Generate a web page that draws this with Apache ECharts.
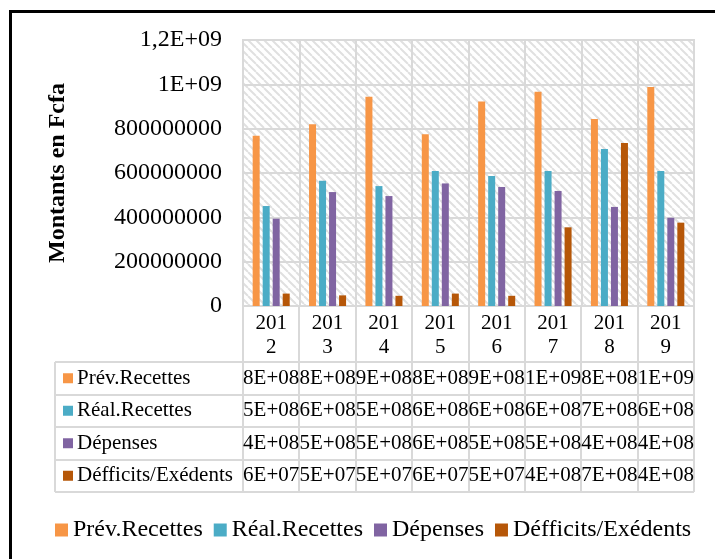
<!DOCTYPE html>
<html>
<head>
<meta charset="utf-8">
<script src="https://cdn.jsdelivr.net/npm/echarts@6/dist/echarts.min.js"></script>
<style>
html,body{margin:0;padding:0;background:#fff;}
#c{width:715px;height:559px;}
</style>
</head>
<body>
<div id="c"></div>
<script>
// ---- data ----
const categories = ['2012','2013','2014','2015','2016','2017','2018','2019'];
const seriesNames = ['Prév.Recettes','Réal.Recettes','Dépenses','Défficits/Exédents'];
const prevRecettes = [7.68e8, 8.20e8, 9.44e8, 7.75e8, 9.22e8, 9.67e8, 8.44e8, 9.88e8];
const realRecettes = [4.51e8, 5.65e8, 5.41e8, 6.09e8, 5.86e8, 6.09e8, 7.08e8, 6.09e8];
const depenses     = [3.94e8, 5.14e8, 4.96e8, 5.53e8, 5.37e8, 5.19e8, 4.47e8, 3.98e8];
const deficits     = [5.6e7, 4.8e7, 4.6e7, 5.6e7, 4.6e7, 3.55e8, 7.35e8, 3.76e8];
const yTickLabels = ['0','200000000','400000000','600000000','800000000','1E+09','1,2E+09'];
const yTitle = 'Montants en Fcfa';
const colors = ['#F79646','#4BACC6','#8064A2','#B65708'];
const allSeries = [prevRecettes, realRecettes, depenses, deficits];

const FONT = 'Liberation Serif';
const GRID_COLOR = '#d9d9d9';

function excelExp(v){
  const parts = v.toExponential(0).split('e');
  const e = parseInt(parts[1],10);
  const ae = Math.abs(e);
  return parts[0] + 'E' + (e < 0 ? '-' : '+') + (ae < 10 ? '0' + ae : '' + ae);
}

// hatch pattern
const pc = document.createElement('canvas');
pc.width = 8; pc.height = 8;
const px = pc.getContext('2d');
px.fillStyle = '#ffffff'; px.fillRect(0,0,8,8);
px.strokeStyle = '#e0e0e0'; px.lineWidth = 2;
px.beginPath();
[-8,0,8].forEach(k => { px.moveTo(k,0); px.lineTo(k+8,8); });
px.stroke();

const chart = echarts.init(document.getElementById('c'), null, {renderer:'canvas'});

const option = {
  animation: false,
  backgroundColor: '#ffffff',
  textStyle: { fontFamily: FONT, color: '#000' },
  grid: {
    left: 243, top: 40, right: 21, bottom: 253,
    show: true,
    backgroundColor: { image: pc, repeat: 'repeat' },
    borderColor: GRID_COLOR, borderWidth: 2
  },
  legend: {
    data: seriesNames,
    left: 55, top: 518,
    padding: 0,
    icon: 'rect',
    itemWidth: 13, itemHeight: 13, itemGap: 11,
    textStyle: { fontFamily: FONT, fontSize: 24, color: '#000' }
  },
  xAxis: {
    type: 'category',
    data: categories,
    axisLine: { show: true, lineStyle: { color: GRID_COLOR, width: 2 } },
    axisTick: { show: false },
    splitLine: { show: true, lineStyle: { color: GRID_COLOR, width: 2 } },
    axisLabel: {
      fontFamily: FONT, fontSize: 21, lineHeight: 24, color: '#000', margin: 5,
      interval: 0,
      formatter: v => v.slice(0,3) + '\n' + v.slice(3)
    }
  },
  yAxis: {
    type: 'value',
    min: 0, max: 1.2e9, interval: 2e8,
    axisLine: { show: false },
    axisTick: { show: false },
    splitLine: { show: true, lineStyle: { color: GRID_COLOR, width: 2 } },
    axisLabel: {
      fontFamily: FONT, fontSize: 24, color: '#000', margin: 21,
      formatter: v => yTickLabels[Math.round(v / 2e8)]
    }
  },
  series: allSeries.map((d, i) => ({
    type: 'bar',
    name: seriesNames[i],
    data: d,
    barWidth: 7,
    barGap: '43%',
    itemStyle: { color: colors[i] }
  }))
};
chart.setOption(option);

// ---- data table + extra graphics ----
const p0 = chart.convertToPixel({xAxisIndex:0}, 0);
const p1 = chart.convertToPixel({xAxisIndex:0}, 1);
const band = p1 - p0;
const colLeft = p0 - band / 2;
const colRight = colLeft + band * categories.length;
const yAxisBottom = chart.convertToPixel({yAxisIndex:0}, 0);
const headerBottom = 362;
const rowH = 32.5;
const tableLeft = 55;
const tableBottom = headerBottom + rowH * allSeries.length;

const g = [];
const lineStyle = { stroke: GRID_COLOR, lineWidth: 2 };
for (let i = 0; i <= categories.length; i++) {
  const x = Math.round(colLeft + band * i);
  g.push({ type: 'line', shape: { x1: x, y1: yAxisBottom, x2: x, y2: tableBottom }, style: lineStyle, z: 10 });
}
g.push({ type: 'line', shape: { x1: tableLeft, y1: headerBottom, x2: tableLeft, y2: tableBottom }, style: lineStyle, z: 10 });
for (let r = 0; r <= allSeries.length; r++) {
  const y = Math.round(headerBottom + rowH * r);
  g.push({ type: 'line', shape: { x1: tableLeft, y1: y, x2: colRight, y2: y }, style: lineStyle, z: 10 });
}
const txt = (size, weight) => ({ fontFamily: FONT, fontSize: size, fontWeight: weight || 'normal', fill: '#000' });
allSeries.forEach((d, r) => {
  const cy = headerBottom + rowH * r + rowH / 2;
  g.push({ type: 'rect', shape: { x: 63, y: cy - 5, width: 10, height: 10 }, style: { fill: colors[r] }, z: 11 });
  g.push({ type: 'text', x: 77, y: cy, style: Object.assign(txt(21), { text: seriesNames[r], align: 'left', verticalAlign: 'middle' }), z: 11 });
  d.forEach((v, i) => {
    const cx = colLeft + band * i + band / 2;
    g.push({ type: 'text', x: cx, y: cy, style: Object.assign(txt(21), { text: excelExp(v), align: 'center', verticalAlign: 'middle' }), z: 11 });
  });
});
g.push({ type: 'text', x: 58, y: 173, rotation: Math.PI / 2,
  style: Object.assign(txt(24, 'bold'), { text: yTitle, align: 'center', verticalAlign: 'middle' }), z: 11 });
g.push({ type: 'rect', shape: { x: 10.5, y: 11.5, width: 800, height: 700 }, style: { fill: 'none', stroke: '#000', lineWidth: 3 }, z: 20 });

chart.setOption({ graphic: g });
</script>
</body>
</html>
